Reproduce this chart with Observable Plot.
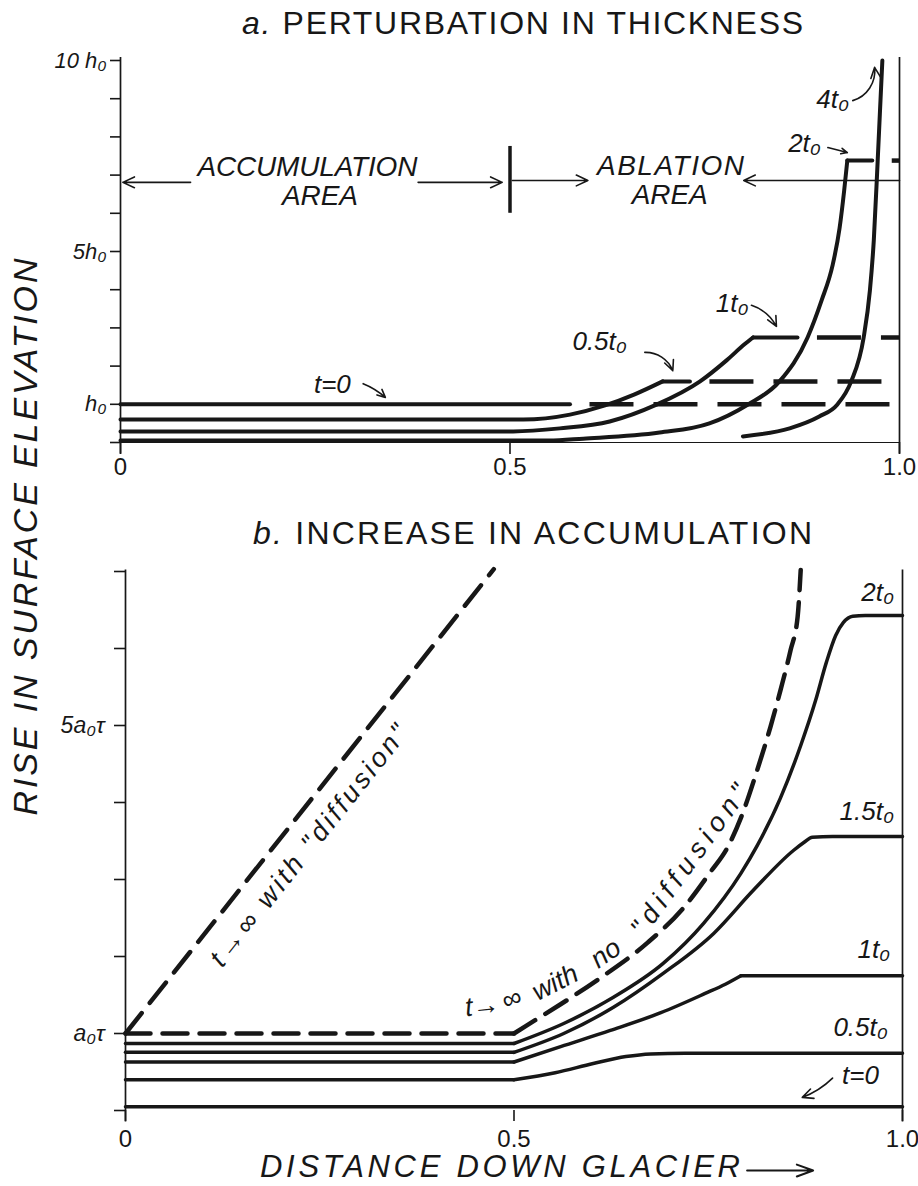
<!DOCTYPE html>
<html>
<head>
<meta charset="utf-8">
<script src="https://cdn.jsdelivr.net/npm/d3@7"></script>
<script src="https://cdn.jsdelivr.net/npm/@observablehq/plot@0.6"></script>
<style>
  html, body { margin: 0; padding: 0; background: #fff; }
  #root { position: relative; width: 918px; height: 1186px; overflow: hidden; background: #fff; }
  #root > svg { position: absolute; left: 0; }
</style>
</head>
<body>
<div id="root"></div>
<script>
const INK = "#171717";
const FONT = '"Liberation Sans", Arial, Helvetica, sans-serif';

// ---------------- Panel a: perturbation in thickness ----------------
const aXTicks = [0, 0.5, 1];
const aYTicks = [0, 1, 2, 3, 4, 5, 6, 7, 8, 9, 10];
const aYLabelAt = [10, 5, 1];
const aYLabelText = ["10 h₀", "5h₀", "h₀"];

// [distance, rise] pairs
const aT0 = [[0, 1.0], [0.577, 1.0]];
const aT05 = [[0, 0.6], [0.517, 0.6], [0.577, 0.73], [0.622, 0.97], [0.660, 1.26], [0.696, 1.6], [0.731, 1.6]];
const aT1 = [[0, 0.29], [0.504, 0.29], [0.564, 0.37], [0.628, 0.55], [0.688, 0.99], [0.744, 1.60], [0.778, 2.15], [0.801, 2.57], [0.812, 2.75], [0.869, 2.75]];
const aT2 = [[0, 0.05], [0.55, 0.05], [0.594, 0.10], [0.692, 0.26], [0.756, 0.50], [0.805, 0.99], [0.846, 1.60], [0.882, 2.75], [0.900, 3.72], [0.914, 4.63], [0.923, 5.60], [0.929, 6.60], [0.933, 7.38], [0.965, 7.38]];
const aT4 = [[0.799, 0.16], [0.859, 0.37], [0.897, 0.68], [0.920, 0.99], [0.938, 1.60], [0.954, 2.75], [0.962, 3.98], [0.967, 5.29], [0.972, 7.38], [0.975, 8.7], [0.978, 10.0]];

const aCurveLabel = ["t=0", "0.5t₀", "1t₀", "2t₀", "4t₀"];
const aCurveLabelX = [0.272, 0.615, 0.785, 0.878, 0.914];
const aCurveLabelY = [1.52, 2.64, 3.64, 7.83, 8.98];
const aPointerX1 = [0.3115, 0.673, 0.810, 0.908, 0.940];
const aPointerY1 = [1.54, 2.36, 3.59, 7.72, 8.95];
const aPointerX2 = [0.340, 0.709, 0.842, 0.933, 0.968];
const aPointerY2 = [1.18, 1.88, 3.04, 7.59, 9.82];
const aPointerBend = [10, 35, 22, 0, -40];

const aZoneText = ["ACCUMULATION", "AREA", "ABLATION", "AREA"];
const aZoneX = [0.240, 0.256, 0.706, 0.705];
const aZoneY = [7.20, 6.44, 7.25, 6.47];
const aZoneArrowX1 = [0.09, 0.382, 0.503, 1.0];
const aZoneArrowX2 = [0.003, 0.490, 0.600, 0.80];
const aZoneArrowY = [6.81, 6.81, 6.86, 6.86];
const aDivider = [0.5];
const aDividerSpan = [6.0, 7.75];

// ---------------- Panel b: increase in accumulation ----------------
const bXTicks = [0, 0.5, 1];
const bYTicks = [0, 1, 2, 3, 4, 5, 6, 7];
const bYLabelAt = [1, 5];
const bYLabelText = ["a₀τ", "5a₀τ"];

const bDiffusion = [[0, 1.0], [0.474, 7.03]];
const bNoDiffusion = [[0, 1.0], [0.5, 1.0], [0.530, 1.19], [0.560, 1.38], [0.611, 1.72], [0.672, 2.18], [0.718, 2.63], [0.753, 3.10], [0.775, 3.42], [0.792, 3.80], [0.813, 4.42], [0.830, 4.98], [0.843, 5.46], [0.856, 5.98], [0.865, 6.41], [0.869, 7.02]];
const bT0 = [[0, 0.05], [1, 0.05]];
const bT05 = [[0, 0.40], [0.5, 0.40], [0.553, 0.49], [0.602, 0.61], [0.644, 0.70], [0.676, 0.735], [0.72, 0.745], [1, 0.745]];
const bT1 = [[0, 0.63], [0.5, 0.63], [0.560, 0.83], [0.624, 1.04], [0.689, 1.27], [0.746, 1.52], [0.772, 1.64], [0.792, 1.75], [1, 1.75]];
const bT15 = [[0, 0.755], [0.5, 0.755], [0.564, 1.00], [0.628, 1.34], [0.692, 1.78], [0.757, 2.30], [0.808, 2.86], [0.860, 3.38], [0.873, 3.48], [0.884, 3.55], [0.91, 3.56], [1, 3.56]];
const bT2 = [[0, 0.87], [0.5, 0.87], [0.564, 1.13], [0.628, 1.47], [0.692, 1.91], [0.744, 2.43], [0.792, 3.08], [0.813, 3.44], [0.843, 4.06], [0.869, 4.74], [0.888, 5.32], [0.902, 5.82], [0.914, 6.17], [0.924, 6.34], [0.936, 6.42], [0.952, 6.43], [1, 6.43]];

const bCurveLabel = ["2t₀", "1.5t₀", "1t₀", "0.5t₀", "t=0"];
const bCurveLabelX = [0.968, 0.954, 0.963, 0.946, 0.946];
const bCurveLabelY = [6.73, 3.88, 2.09, 1.08, 0.45];
const bPointer = [[0.910, 0.42, 0.871, 0.17]];

const bRotText = ["t→∞ with \"diffusion\"", "t→", "∞", "with", "no", "\"diffusion\""];
const bRotX = [0.236, 0.459, 0.497, 0.553, 0.618, 0.726];
const bRotY = [3.44, 1.36, 1.45, 1.66, 2.04, 3.25];
const bRotAngle = [-51.5, -6, -20, -27, -35, -54];
const bAxisArrow = [[0.800, -0.78, 0.885, -0.78]];

// ---------------- helpers ----------------
const xy = {x: d => d[0], y: d => d[1]};
function pieces(points, breaks, opts) {
  const cuts = [0, ...breaks, points.length - 1];
  const out = [];
  for (let k = 0; k < cuts.length - 1; k++) {
    const seg = points.slice(cuts[k], cuts[k + 1] + 1);
    out.push(Plot.line(seg, {...xy, curve: seg.length > 2 ? "monotone-x" : "linear", ...opts}));
  }
  return out;
}
const tickFmt = d => d === 0 ? "0" : d.toFixed(1);
const idx = arr => arr.map((_, i) => i);
const baseStyle = {fontFamily: FONT, fontSize: "24px", color: INK, background: "transparent", overflow: "visible"};

// ---------------- Panel a plot ----------------
const solidA = {stroke: INK, strokeWidth: 4, strokeLinejoin: "round", strokeLinecap: "round"};
const aEnds = [aT0, aT05, aT1, aT2].map(s => s[s.length - 1]);
const pointerA = aPointerBend.map((b, i) => Plot.arrow([i], {
  x1: j => aPointerX1[j], y1: j => aPointerY1[j], x2: j => aPointerX2[j], y2: j => aPointerY2[j],
  bend: b, stroke: INK, strokeWidth: 1.6, headLength: 11, headAngle: 50}));

const plotA = Plot.plot({
  width: 918, height: 470,
  marginLeft: 120, marginRight: 19, marginTop: 60, marginBottom: 28,
  x: {domain: [0, 1]}, y: {domain: [0, 10]},
  style: baseStyle,
  marks: [
    Plot.ruleX([0, 1], {y1: -0.3, y2: 10.08, stroke: INK, strokeWidth: 1.7}),
    Plot.ruleY([0], {x1: 0, x2: 1, stroke: INK, strokeWidth: 1.2}),
    Plot.axisY(aYTicks, {tickSize: 10, fill: "none", label: null, stroke: INK, strokeWidth: 1.6}),
    Plot.axisY(aYLabelAt, {tickSize: 0, tickPadding: 14, stroke: "none", label: null,
      tickFormat: d => aYLabelText[aYLabelAt.indexOf(d)], fontSize: 22, fontStyle: "italic", fill: INK}),
    Plot.axisX(aXTicks, {tickSize: 12, tickPadding: 3, tickFormat: tickFmt, fontSize: 24, label: null, stroke: INK, strokeWidth: 1.6, fill: INK}),
    // dashed continuations of the plateaus
    Plot.ruleY(aEnds, {y: d => d[1], x1: d => d[0], x2: 1, stroke: INK, strokeWidth: 4.5, strokeDasharray: "44,20", strokeDashoffset: 44}),
    ...pieces(aT0, [], solidA),
    ...pieces(aT05, [5], solidA),
    ...pieces(aT1, [8], solidA),
    ...pieces(aT2, [12], solidA),
    ...pieces(aT4, [], solidA),
    // zone annotation
    Plot.ruleX(aDivider, {y1: aDividerSpan[0], y2: aDividerSpan[1], stroke: INK, strokeWidth: 3.5}),
    Plot.arrow(idx(aZoneArrowX1), {x1: i => aZoneArrowX1[i], x2: i => aZoneArrowX2[i], y1: i => aZoneArrowY[i], y2: i => aZoneArrowY[i],
      stroke: INK, strokeWidth: 1.6, headLength: 12, headAngle: 50}),
    Plot.text(idx(aZoneText), {x: i => aZoneX[i], y: i => aZoneY[i], text: i => aZoneText[i],
      fontSize: 28, fontStyle: "italic", fill: INK, textAnchor: "middle", lineAnchor: "middle"}),
    // curve labels
    Plot.text(idx(aCurveLabel), {x: i => aCurveLabelX[i], y: i => aCurveLabelY[i], text: i => aCurveLabel[i],
      fontSize: 26, fontStyle: "italic", fill: INK, textAnchor: "middle", lineAnchor: "middle"}),
    ...pointerA
  ]
});

// ---------------- Panel b plot ----------------
const solidB = {stroke: INK, strokeWidth: 3.5, strokeLinejoin: "round", strokeLinecap: "round"};
const plotB = Plot.plot({
  width: 918, height: 696,
  marginLeft: 125, marginRight: 16, marginTop: 81, marginBottom: 76,
  x: {domain: [0, 1]}, y: {domain: [0, 7]},
  style: baseStyle,
  marks: [
    Plot.ruleX([0, 1], {y1: -0.15, y2: 7.02, stroke: INK, strokeWidth: 1.7}),
    Plot.axisY(bYTicks, {tickSize: 11, fill: "none", label: null, stroke: INK, strokeWidth: 1.6}),
    Plot.axisY(bYLabelAt, {tickSize: 0, tickPadding: 21, stroke: "none", label: null,
      tickFormat: d => bYLabelText[bYLabelAt.indexOf(d)], fontSize: 23, fontStyle: "italic", fill: INK}),
    Plot.axisX(bXTicks, {tickSize: 11, tickPadding: 8, tickFormat: tickFmt, fontSize: 24, label: null, stroke: INK, strokeWidth: 1.6, fill: INK}),
    Plot.line(bDiffusion, {...xy, stroke: INK, strokeWidth: 4.5, strokeDasharray: "26,13"}),
    ...pieces(bNoDiffusion, [1], {stroke: INK, strokeWidth: 4.5, strokeDasharray: "25,12"}),
    ...pieces(bT0, [], solidB),
    ...pieces(bT05, [1], solidB),
    ...pieces(bT1, [1, 7], solidB),
    ...pieces(bT15, [1], solidB),
    ...pieces(bT2, [1], solidB),
    Plot.text(idx(bCurveLabel), {x: i => bCurveLabelX[i], y: i => bCurveLabelY[i], text: i => bCurveLabel[i],
      fontSize: 26, fontStyle: "italic", fill: INK, textAnchor: "middle", lineAnchor: "middle"}),
    Plot.arrow(bPointer, {x1: d => d[0], y1: d => d[1], x2: d => d[2], y2: d => d[3], bend: 12,
      stroke: INK, strokeWidth: 1.6, headLength: 11, headAngle: 50}),
    Plot.text(idx(bRotText), {x: i => bRotX[i], y: i => bRotY[i], text: i => bRotText[i], rotate: i => bRotAngle[i],
      fontSize: 27, fontStyle: "italic", fill: INK, textAnchor: "middle", lineAnchor: "middle"}),
    Plot.arrow(bAxisArrow, {x1: d => d[0], y1: d => d[1], x2: d => d[2], y2: d => d[3],
      stroke: INK, strokeWidth: 2, headLength: 13, headAngle: 40})
  ]
});

// stretch hand-lettered labels to the spans they cover in the figure
const spans = {"ACCUMULATION": 220, "AREA": 76, "ABLATION": 147, "t→∞ with \"diffusion\"": 300, "\"diffusion\"": 180};
function fit(svg) {
  d3.select(svg).selectAll("text").each(function () {
    const t = this.textContent;
    if (Object.prototype.hasOwnProperty.call(spans, t)) {
      this.setAttribute("textLength", spans[t]);
      this.setAttribute("lengthAdjust", "spacing");
    }
  });
}
fit(plotA); fit(plotB);

const root = document.getElementById("root");
plotA.style.top = "0px";
plotB.style.top = "490px";
root.appendChild(plotA);
root.appendChild(plotB);

// ---------------- titles and axis titles ----------------
const over = d3.create("svg").attr("width", 918).attr("height", 1186)
  .style("top", "0px").style("pointer-events", "none")
  .attr("font-family", FONT).attr("fill", INK);

const tA = over.append("text").attr("x", 242).attr("y", 34).attr("font-size", 32)
  .attr("textLength", 561).attr("lengthAdjust", "spacing");
tA.append("tspan").attr("font-style", "italic").text("a.");
tA.append("tspan").text(" PERTURBATION IN THICKNESS");

const tB = over.append("text").attr("x", 253).attr("y", 544).attr("font-size", 32)
  .attr("textLength", 559).attr("lengthAdjust", "spacing");
tB.append("tspan").attr("font-style", "italic").text("b.");
tB.append("tspan").text(" INCREASE IN ACCUMULATION");

over.append("text").attr("transform", "translate(37,537) rotate(-90)")
  .attr("text-anchor", "middle").attr("font-size", 34).attr("font-style", "italic")
  .attr("textLength", 557).attr("lengthAdjust", "spacing")
  .text("RISE IN SURFACE ELEVATION");

over.append("text").attr("x", 260).attr("y", 1177).attr("font-size", 31).attr("font-style", "italic")
  .attr("textLength", 480).attr("lengthAdjust", "spacing")
  .text("DISTANCE DOWN GLACIER");

root.appendChild(over.node());
</script>
</body>
</html>
